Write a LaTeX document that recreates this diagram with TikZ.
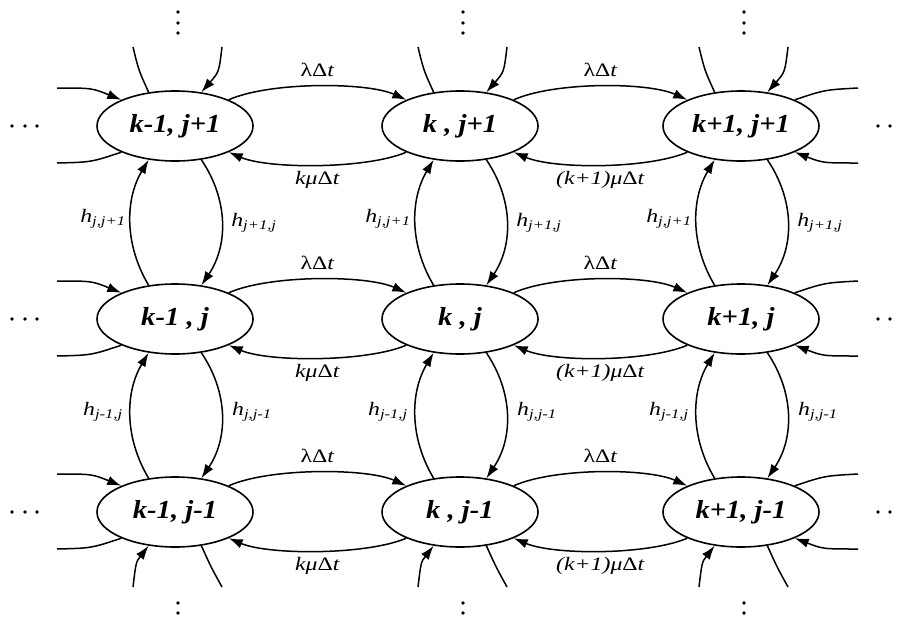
\documentclass[tikz,border=0pt]{standalone}
\usepackage{fontspec}
\usepackage{graphicx}
\setmainfont{Liberation Serif}
\usetikzlibrary{shapes.geometric,arrows.meta,calc}
\newcommand\hsx[1]{\scalebox{1.1}[1]{#1}}
\newcommand\lsx[1]{\scalebox{1.25}[1]{#1}}
\begin{document}
\begin{tikzpicture}[x=1pt,y=-1pt,
  state/.style={ellipse,draw,line width=1.6pt,minimum width=156pt,minimum height=70pt,inner sep=0pt,
    font=\fontsize{26}{26}\selectfont\bfseries\itshape},
  tr/.style={line width=1.5pt},
  arr/.style={tr,-{Latex[length=14pt,width=9.5pt]}},
  lab/.style={font=\fontsize{19}{19}\selectfont,inner sep=0pt},
  dot/.style={fill=black,circle,inner sep=0pt,minimum size=3.6pt},
]
\useasboundingbox[fill=white] (0,0) rectangle (898,619);

\node[state] (a1) at (175,126) {\hsx{k-1, j+1}};
\node[state] (b1) at (460,126) {\hsx{k , j+1}};
\node[state] (c1) at (741,126) {\hsx{k+1, j+1}};
\node[state] (a2) at (175,319) {\hsx{k-1 , j}};
\node[state] (b2) at (460,319) {\hsx{k , j}};
\node[state] (c2) at (741,319) {\hsx{k+1, j}};
\node[state] (a3) at (175,512) {\hsx{k-1, j-1}};
\node[state] (b3) at (460,512) {\hsx{k , j-1}};
\node[state] (c3) at (741,512) {\hsx{k+1, j-1}};

% horizontal transitions
\foreach \r in {1,2,3}{
  \draw[arr] (a\r.26) .. controls +(40,-18) and +(-40,-18) .. (b\r.154);
  \draw[arr] (b\r.206) .. controls +(-40,17) and +(40,17) .. (a\r.-26);
  \draw[arr] (b\r.26) .. controls +(40,-18) and +(-40,-18) .. (c\r.154);
  \draw[arr] (c\r.206) .. controls +(-40,17) and +(40,17) .. (b\r.-26);
  \node[lab] (la\r) at ($(a\r)!0.5!(b\r)+(0,-56)$) {\lsx{λΔ\textit{t}}};
  \node[lab] (lb\r) at ($(b\r)!0.5!(c\r)+(0,-56)$) {\lsx{λΔ\textit{t}}};
  \node[lab] (ma\r) at ($(a\r)!0.5!(b\r)+(0,54)$) {\lsx{\textit{kμ}Δ\textit{t}}};
  \node[lab] (mb\r) at ($(b\r)!0.5!(c\r)+(0,54)$) {\lsx{\textit{(k+1)μ}Δ\textit{t}}};
  % side stubs
  \coordinate (lu\r) at ($(a\r)+(-118,-38)$);
  \coordinate (ll\r) at ($(a\r)+(-118,37)$);
  \coordinate (ru\r) at ($(c\r)+(117,-38)$);
  \coordinate (rl\r) at ($(c\r)+(117,37)$);
  \draw[arr] (lu\r) .. controls +(35,0) .. (a\r.154);
  \draw[tr] (a\r.206) .. controls +(-30,10) .. (ll\r);
  \draw[tr] (c\r.26) .. controls +(30,-10) .. (ru\r);
  \draw[arr] (rl\r) .. controls +(-35,0) .. (c\r.-26);
  % side dots
  \node[dot] (ld\r a) at ($(a\r)+(-163,0)$) {};
  \node[dot] (ld\r b) at ($(a\r)+(-150,0)$) {};
  \node[dot] (ld\r c) at ($(a\r)+(-138,0)$) {};
  \node[dot] (rd\r a) at ($(c\r)+(137,0)$) {};
  \node[dot] (rd\r b) at ($(c\r)+(149,0)$) {};
}

% vertical transitions
\foreach \c in {a,b,c}{
  \foreach \u/\l in {1/2,2/3}{
    \draw[arr] (\c\l.128) .. controls +(-24,-40) and +(-24,40) .. (\c\u.-128);
    \draw[arr] (\c\u.-52) .. controls +(27,40) and +(27,-40) .. (\c\l.52);
  }
  \node[lab] (hl1\c) at ($(\c1)!0.5!(\c2)+(-72,-4)$) {\lsx{\textit{h}\textsubscript{\textit{j,j+1}}}};
  \node[lab] (hr1\c) at ($(\c1)!0.5!(\c2)+(79,0)$) {\lsx{\textit{h}\textsubscript{\textit{j+1,j}}}};
  \node[lab] (hl2\c) at ($(\c2)!0.5!(\c3)+(-72,-4)$) {\lsx{\textit{h}\textsubscript{\textit{j-1,j}}}};
  \node[lab] (hr2\c) at ($(\c2)!0.5!(\c3)+(77,-4)$) {\lsx{\textit{h}\textsubscript{\textit{j,j-1}}}};
  % top stubs
  \coordinate (tl\c) at ($(\c1)+(-42,-79)$);
  \coordinate (tr\c) at ($(\c1)+(47,-79)$);
  \draw[tr] (\c1.128) .. controls +(-10,-22) .. (tl\c);
  \draw[arr] (tr\c) .. controls +(-3,25) .. (\c1.52);
  % bottom stubs
  \coordinate (bl\c) at ($(\c3)+(-42,75)$);
  \coordinate (br\c) at ($(\c3)+(47,75)$);
  \draw[arr] (bl\c) .. controls +(3,-25) .. (\c3.-128);
  \draw[tr] (\c3.-52) .. controls +(10,22) .. (br\c);
  % dots
  \node[dot] (td\c a) at ($(\c1)+(3,-114)$) {};
  \node[dot] (td\c b) at ($(\c1)+(3,-103)$) {};
  \node[dot] (td\c c) at ($(\c1)+(3,-93)$) {};
  \node[dot] (bd\c a) at ($(\c3)+(3,91)$) {};
  \node[dot] (bd\c b) at ($(\c3)+(3,101)$) {};
}
\end{tikzpicture}
\end{document}
